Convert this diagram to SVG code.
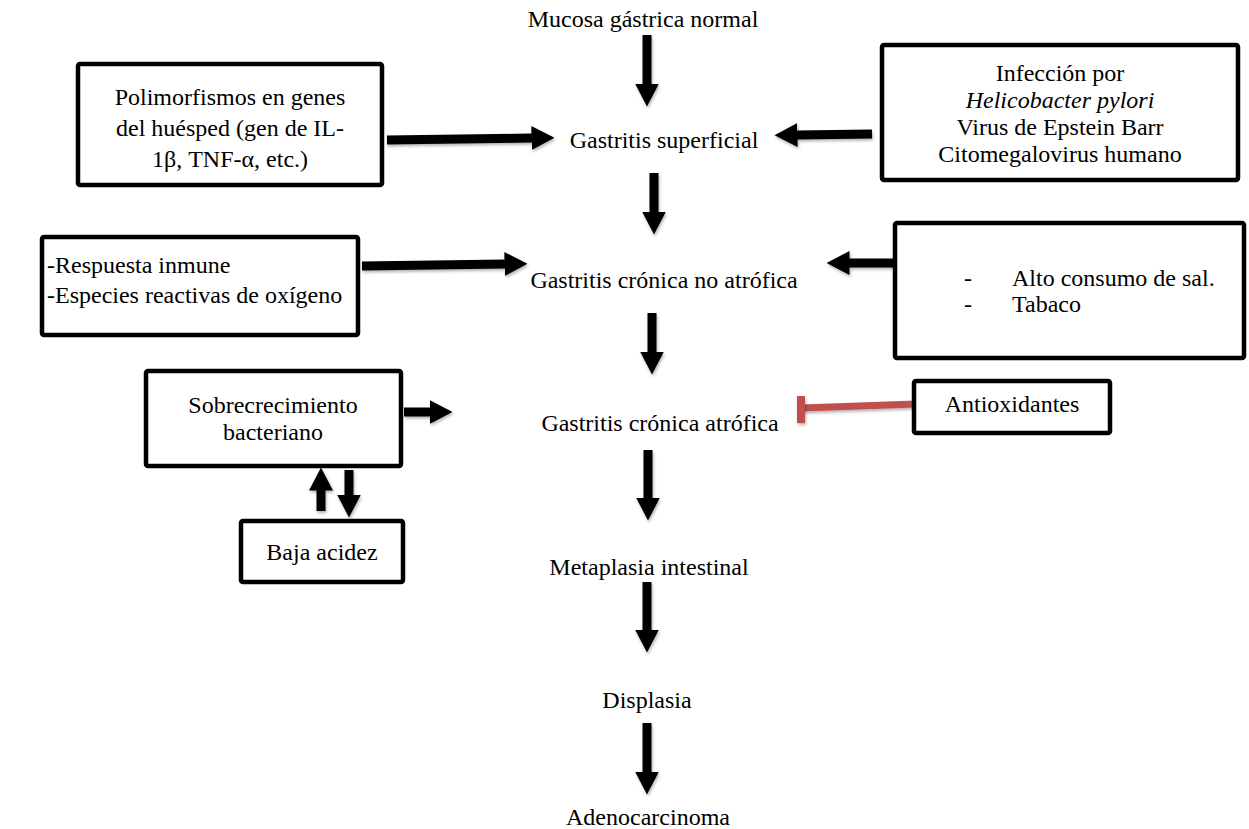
<svg xmlns="http://www.w3.org/2000/svg" width="1249" height="829" viewBox="0 0 1249 829">
<style>
text{font-family:"Liberation Serif","Times New Roman",serif;font-size:24px;fill:#000}
.c{text-anchor:middle}
.box{fill:#fff;stroke:#000;stroke-width:4.5}
.arr{stroke:#000;stroke-width:9;fill:none;marker-end:url(#ah);filter:url(#sh)}
.inh{stroke:#c0504d;stroke-width:7;fill:none;filter:url(#sh)}
</style>
<defs>
<marker id="ah" viewBox="0 0 23 24" markerWidth="23" markerHeight="24" refX="0.5" refY="12" orient="auto" markerUnits="userSpaceOnUse">
<path d="M0,0 L23,12 L0,24 Z" fill="#000"/>
</marker>
<filter id="sh" filterUnits="userSpaceOnUse" x="0" y="0" width="1249" height="829">
<feDropShadow dx="1" dy="2" stdDeviation="1.5" flood-color="#000" flood-opacity="0.3"/>
</filter>
</defs>
<rect width="1249" height="829" fill="#fff"/>

<g id="connectors">
<line class="arr" x1="647" y1="35" x2="647" y2="84"/>
<line class="arr" x1="387" y1="140" x2="532" y2="138"/>
<line class="arr" x1="872" y1="134" x2="797" y2="135"/>
<line class="arr" x1="654" y1="173" x2="654" y2="212"/>
<line class="arr" x1="362" y1="266" x2="505" y2="264"/>
<line class="arr" x1="893" y1="263" x2="849" y2="263"/>
<line class="arr" x1="652" y1="313" x2="652" y2="352"/>
<line class="arr" x1="404" y1="412" x2="430" y2="412"/>
<line class="arr" x1="648" y1="450" x2="648" y2="498"/>
<line class="arr" x1="321" y1="511" x2="321" y2="490"/>
<line class="arr" x1="349" y1="470" x2="349" y2="495"/>
<line class="arr" x1="647" y1="582" x2="647" y2="630"/>
<line class="arr" x1="647" y1="723" x2="647" y2="772"/>
<g id="inhibit">
<line class="inh" x1="916" y1="404" x2="802" y2="408"/>
<line class="inh" x1="801" y1="396" x2="801" y2="423" style="stroke-width:8"/>
</g>
</g>

<g id="n-mucosa"><text class="c" x="643" y="27">Mucosa gástrica normal</text></g>
<g id="n-superficial"><text class="c" x="664" y="148">Gastritis superficial</text></g>
<g id="n-noatrofica"><text class="c" x="664" y="288">Gastritis crónica no atrófica</text></g>
<g id="n-atrofica"><text class="c" x="660" y="431">Gastritis crónica atrófica</text></g>
<g id="n-metaplasia"><text class="c" x="649" y="575">Metaplasia intestinal</text></g>
<g id="n-displasia"><text class="c" x="647" y="708">Displasia</text></g>
<g id="n-adeno"><text class="c" x="648" y="825">Adenocarcinoma</text></g>

<g id="n-polimorfismos">
<rect class="box" x="78" y="64" width="304" height="121" rx="2"/>
<text class="c" x="230" y="105">Polimorfismos en genes</text>
<text class="c" x="230" y="136">del huésped (gen de IL-</text>
<text class="c" x="230" y="167">1β, TNF-α, etc.)</text>
</g>

<g id="n-infeccion">
<rect class="box" x="882" y="45" width="356" height="135" rx="2"/>
<text class="c" x="1060" y="81">Infección por</text>
<text class="c" x="1060" y="108" font-style="italic">Helicobacter pylori</text>
<text class="c" x="1060" y="135">Virus de Epstein Barr</text>
<text class="c" x="1060" y="162">Citomegalovirus humano</text>
</g>

<g id="n-respuesta">
<rect class="box" x="42" y="237" width="316" height="98" rx="2"/>
<text x="47" y="273">-Respuesta inmune</text>
<text x="47" y="303">-Especies reactivas de oxígeno</text>
</g>

<g id="n-sal">
<rect class="box" x="895" y="223" width="349" height="135" rx="2"/>
<text x="964" y="286">-</text>
<text x="1012" y="286">Alto consumo de sal.</text>
<text x="964" y="312">-</text>
<text x="1012" y="312">Tabaco</text>
</g>

<g id="n-sobrecrecimiento">
<rect class="box" x="146" y="371" width="255" height="95" rx="2"/>
<text class="c" x="273" y="413">Sobrecrecimiento</text>
<text class="c" x="273" y="440">bacteriano</text>
</g>

<g id="n-antioxidantes">
<rect class="box" x="914" y="381" width="196" height="52" rx="2"/>
<text class="c" x="1012" y="412">Antioxidantes</text>
</g>

<g id="n-baja">
<rect class="box" x="241" y="521" width="162" height="61" rx="2"/>
<text class="c" x="322" y="560">Baja acidez</text>
</g>
</svg>
